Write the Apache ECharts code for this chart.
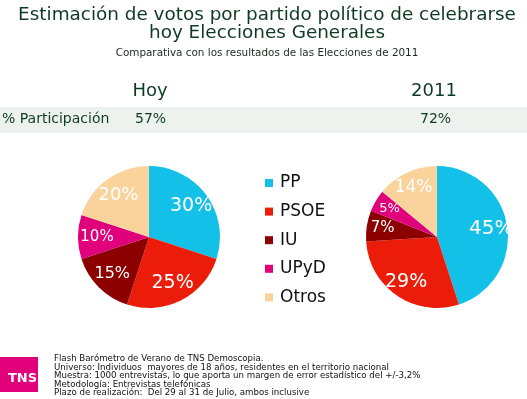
<!DOCTYPE html>
<html>
<head>
<meta charset="utf-8">
<script src="https://cdn.jsdelivr.net/npm/echarts@6/dist/echarts.min.js"></script>
<style>
  html, body { margin: 0; padding: 0; background: #fff; }
  #chart { width: 527px; height: 399px; }
</style>
</head>
<body>
<div id="chart"></div>
<script>
// datos
var partidos = ['PP', 'PSOE', 'IU', 'UPyD', 'Otros'];
var votosHoy = [30, 25, 15, 10, 20];
var votos2011 = [45, 29, 7, 5, 14];
var participacion = ['57%', '72%'];
var columnas = ['Hoy', '2011'];
var notas = [
  'Flash Barómetro de Verano de TNS Demoscopia.',
  'Universo: Individuos  mayores de 18 años, residentes en el territorio nacional',
  'Muestra: 1000 entrevistas, lo que aporta un margen de error estadístico del +/-3,2%',
  'Metodología: Entrevistas telefónicas',
  'Plazo de realización:  Del 29 al 31 de Julio, ambos inclusive'
];

var colores = ['#13c0e8', '#eb1d0a', '#8c0000', '#e0007c', '#fad39c'];
var tamHoy = [19, 19, 16, 15, 18];
var tam2011 = [20, 19, 15, 13, 17];
var fuente = '"DejaVu Sans", Verdana, sans-serif';
var verde = '#0f3a22';

function datosPie(valores) {
  return partidos.map(function (p, i) {
    return { name: p, value: valores[i], itemStyle: { color: colores[i] } };
  });
}

function etiquetas(valores, tams) {
  return partidos.map(function (p, i) {
    return {
      name: p, value: valores[i],
      label: { fontSize: tams[i] }
    };
  });
}

function serieTarta(valores, centro) {
  return {
    type: 'pie',
    center: centro,
    radius: [0, 71],
    startAngle: 90,
    clockwise: true,
    silent: true,
    label: { show: false },
    labelLine: { show: false },
    itemStyle: { borderWidth: 0 },
    data: datosPie(valores)
  };
}

// serie transparente solo para colocar las etiquetas mas hacia fuera
function serieEtiquetas(valores, centro, tams, r0) {
  return {
    type: 'pie',
    center: centro,
    radius: [r0, 71],
    startAngle: 90,
    silent: true,
    legendHoverLink: false,
    itemStyle: { color: 'transparent', borderWidth: 0 },
    label: {
      show: true,
      position: 'inner',
      color: '#fff',
      fontFamily: fuente,
      formatter: '{c}%'
    },
    labelLine: { show: false },
    data: etiquetas(valores, tams)
  };
}

var chart = echarts.init(document.getElementById('chart'));

var option = {
  backgroundColor: '#fff',
  animation: false,
  title: [
    {
      text: 'Estimación de votos por partido político de celebrarse\nhoy Elecciones Generales',
      left: 262,
      textAlign: 'center',
      top: 1,
      textStyle: { fontFamily: fuente, fontSize: 18.4, fontWeight: 'normal', color: verde, lineHeight: 18 }
    },
    {
      text: 'Comparativa con los resultados de las Elecciones de 2011',
      left: 262,
      textAlign: 'center',
      top: 43,
      textStyle: { fontFamily: fuente, fontSize: 10.4, fontWeight: 'normal', color: '#1a2a1e' }
    }
  ],
  legend: {
    orient: 'vertical',
    left: 260,
    top: 168,
    icon: 'rect',
    itemWidth: 8,
    itemHeight: 8,
    itemGap: 8.6,
    textStyle: { fontFamily: fuente, fontSize: 17, color: '#111', lineHeight: 20, padding: [0, 0, 0, 2] },
    data: partidos,
    selectedMode: false
  },
  graphic: [
    { type: 'rect', shape: { x: 0, y: 107, width: 527, height: 26 }, style: { fill: '#eef2ef' }, silent: true },
    { type: 'text', x: 150, y: 82, style: { text: columnas[0], font: '18px ' + fuente, fill: verde, textAlign: 'center' } },
    { type: 'text', x: 434, y: 82, style: { text: columnas[1], font: '18px ' + fuente, fill: verde, textAlign: 'center' } },
    { type: 'text', x: 2, y: 112, style: { text: '% Participación', font: '14px ' + fuente, fill: verde } },
    { type: 'text', x: 135, y: 112, style: { text: participacion[0], font: '14px ' + fuente, fill: verde } },
    { type: 'text', x: 420, y: 112, style: { text: participacion[1], font: '14px ' + fuente, fill: verde } },
    { type: 'rect', shape: { x: 0, y: 357, width: 38, height: 35 }, style: { fill: '#e2007a' }, silent: true },
    { type: 'text', x: 8, y: 372, style: { text: 'TNS', font: 'bold 13px ' + fuente, fill: '#fff' } },
    { type: 'text', x: 54, y: 355, style: { text: notas.join('\n'), font: '8.65px ' + fuente, fill: '#111', lineHeight: 8.4 } }
  ],
  series: [
    serieTarta(votosHoy, [149, 237]),
    serieTarta(votos2011, [437, 237]),
    serieEtiquetas(votosHoy, [149, 237], tamHoy, 27),
    serieEtiquetas(votos2011, [437, 237], tam2011, 33)
  ]
};

chart.setOption(option);
</script>
</body>
</html>
